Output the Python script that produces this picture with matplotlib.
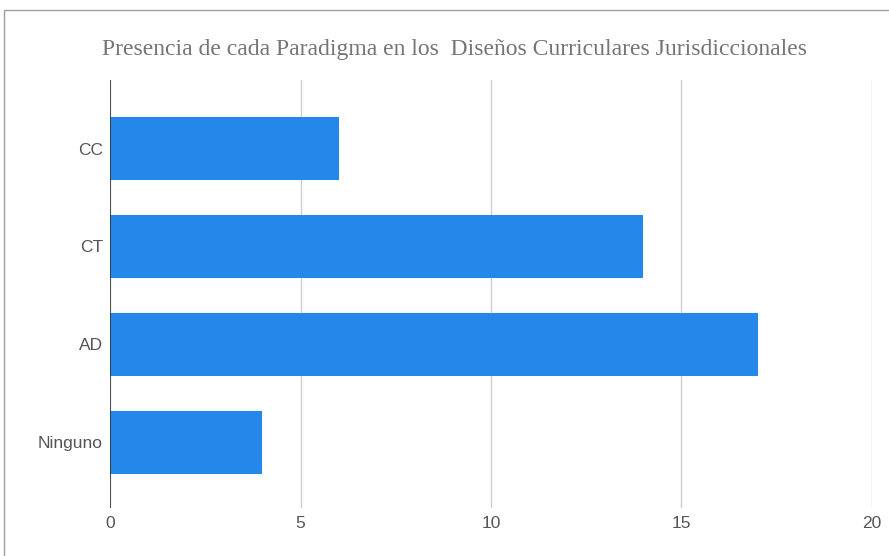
import matplotlib
matplotlib.use('Agg')
from matplotlib import pyplot as plt
from matplotlib.patches import Rectangle

categorias = ['CC', 'CT', 'AD', 'Ninguno']
valores = [6, 14, 17, 4]
xticks = [0, 5, 10, 15, 20]
titulo = 'Presencia de cada Paradigma en los  Diseños Curriculares Jurisdiccionales'

fig = plt.figure(figsize=(8.89, 5.56), dpi=100)
ax = fig.add_axes([110/889, 1-508/556, (872-110)/889, (508-80)/556])

pos = list(range(len(categorias)))
ax.barh(pos, valores, height=0.64, color='#2488EA', zorder=3)

ax.set_xlim(0, 20)
ax.set_ylim(3.67, -0.70)
ax.set_yticks(pos)
ax.set_yticklabels(categorias, fontsize=12.5, color='#555555', family='Liberation Sans')
ax.set_xticks(xticks)
ax.set_xticklabels([str(t) for t in xticks], fontsize=12.5, color='#555555', family='Liberation Sans')
ax.tick_params(axis='y', length=0, pad=5)
ax.tick_params(axis='x', length=0, pad=6)
ax.grid(axis='x', color='#d0d0d0', linewidth=1, zorder=0)
for s in ax.spines.values():
    s.set_visible(False)
ax.axvline(0, color='#333333', linewidth=1.2, zorder=4)

fig.text(454/889, 1-50/556, titulo, ha='center', va='center', fontsize=17,
         color='#757575', family='Liberation Serif')

# marco exterior
fig.patches.append(Rectangle((4/889, -0.01), 1.0, 1-10/556+0.01, transform=fig.transFigure,
                             fill=False, edgecolor='#9e9e9e', linewidth=1))

fig.savefig('out.png', dpi=100)
